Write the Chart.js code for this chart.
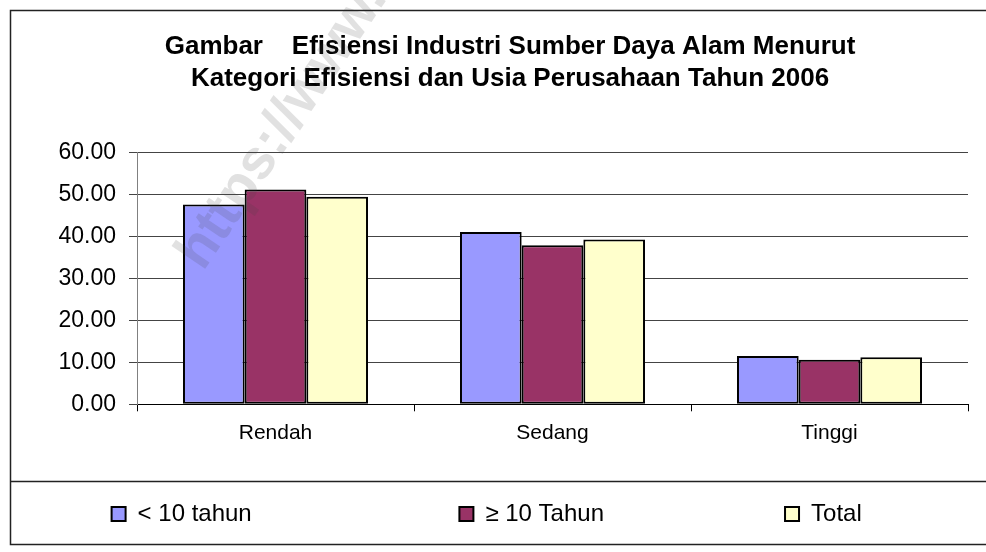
<!DOCTYPE html>
<html>
<head>
<meta charset="utf-8">
<script src="https://cdn.jsdelivr.net/npm/chart.js@4"></script>
<style>
  html, body { margin: 0; padding: 0; background: #fff; overflow: hidden; }
  #wrap { position: absolute; left: 0; top: 0; width: 1010px; height: 552px; }
</style>
</head>
<body>
<div id="wrap"><canvas id="grafik"></canvas></div>
<script>
const kategori = ["Rendah", "Sedang", "Tinggi"];
const kurang10 = [47.65, 41.1, 11.5];
const lebih10 = [51.2, 37.9, 10.6];
const total = [49.5, 39.3, 11.2];
const judul = ["Gambar    Efisiensi Industri Sumber Daya Alam Menurut", "Kategori Efisiensi dan Usia Perusahaan Tahun 2006"];
const seriNama = ["< 10 tahun", "\u2265 10 Tahun", "Total"];

Chart.defaults.font.family = "'Liberation Sans', Arial, sans-serif";
Chart.defaults.color = "#000";

// spasi di belakang teks legenda supaya jaraknya mirip Excel
const spasiLegenda = [28, 24, 7];

const bingkai = {
  id: "bingkai",
  afterDraw(chart) {
    const ctx = chart.ctx;
    ctx.save();
    // watermark
    ctx.translate(203, 272);
    ctx.rotate(-56 * Math.PI / 180);
    ctx.font = "bold 56px 'Liberation Sans', Arial, sans-serif";
    ctx.fillStyle = "rgba(70,70,70,0.16)";
    ctx.textBaseline = "alphabetic";
    ctx.fillText("https://www.bps.go.id", 0, 0);
    ctx.restore();

    ctx.save();
    ctx.strokeStyle = "#222";
    ctx.lineWidth = 1.5;
    ctx.strokeRect(10.5, 10.5, 999, 534);
    const y = Math.round(chart.legend.top) + 0.5;
    ctx.beginPath();
    ctx.moveTo(11, y);
    ctx.lineTo(1010, y);
    ctx.stroke();
    ctx.restore();
  }
};

new Chart(document.getElementById("grafik").getContext("2d"), {
  type: "bar",
  data: {
    labels: kategori,
    datasets: [
      { label: seriNama[0], data: kurang10, backgroundColor: "#9999FF" },
      { label: seriNama[1], data: lebih10, backgroundColor: "#993366" },
      { label: seriNama[2], data: total, backgroundColor: "#FFFFCC" }
    ]
  },
  options: {
    responsive: true,
    maintainAspectRatio: false,
    animation: false,
    layout: { padding: { left: 52, top: 11, right: 42, bottom: 16 } },
    datasets: {
      bar: {
        borderColor: "#000",
        borderWidth: 2,
        borderSkipped: false,
        categoryPercentage: 0.668,
        barPercentage: 1.0
      }
    },
    plugins: {
      title: {
        display: true,
        text: judul,
        font: { size: 26, weight: "bold" },
        lineHeight: 1.26,
        padding: { top: 20.6, bottom: 58.7 },
        color: "#000"
      },
      legend: {
        position: "bottom",
        labels: {
          font: { size: 24 },
          boxWidth: 14,
          boxHeight: 14,
          padding: 21,
          color: "#000",
          generateLabels(chart) {
            const items = Chart.defaults.plugins.legend.labels.generateLabels(chart);
            items.forEach((it, i) => {
              it.text = it.text + " ".repeat(spasiLegenda[i]);
              it.lineWidth = 2;
              it.strokeStyle = "#000";
            });
            return items;
          }
        }
      },
      tooltip: { enabled: false }
    },
    scales: {
      x: {
        grid: { offset: true, drawOnChartArea: false, drawTicks: true, tickLength: 7, color: "#000" },
        border: { color: "#000", width: 1 },
        ticks: { font: { size: 21 }, padding: 9, color: "#000" },
        afterFit(s) { s.height = 76.7; }
      },
      y: {
        min: 0,
        max: 60,
        ticks: {
          stepSize: 10,
          font: { size: 23 },
          padding: 13,
          color: "#000",
          callback: v => v.toFixed(2)
        },
        grid: { color: "#444", tickLength: 8 },
        border: { color: "#808080", width: 1 },
        afterFit(s) { s.width = 85; }
      }
    }
  },
  plugins: [bingkai]
});
</script>
</body>
</html>
